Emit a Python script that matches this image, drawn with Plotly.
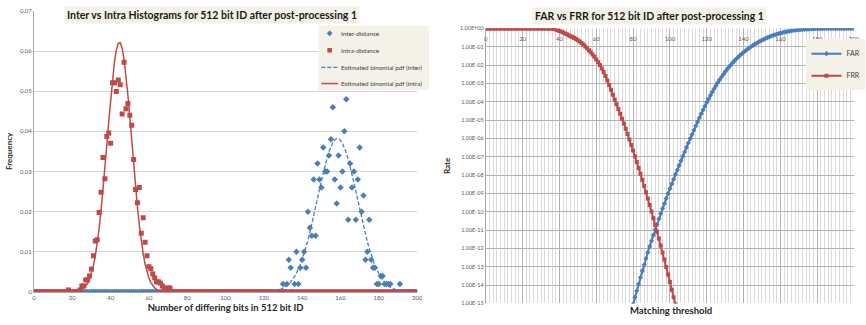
import plotly.graph_objects as go

# ---------------- data: histogram of Hamming distances (512 bit ID) ----------------
bits = list(range(0, 201))

INTRA_FIRST = 18   # intra-distance frequencies for 18..71 (zero elsewhere)
intra_freq = [0.0005, 0, 0, 0, 0, 0, 0.0005, 0.0015, 0.0015, 0.003, 0.003, 0.004,
              0.0057, 0.009, 0.0127, 0.013, 0.0198, 0.0248, 0.0335, 0.0282, 0.0387,
              0.0396, 0.037, 0.0521, 0.0521, 0.0499, 0.0528, 0.0516, 0.0443, 0.0572,
              0.0456, 0.0469, 0.044, 0.0415, 0.033, 0.0255, 0.0222, 0.026, 0.0146,
              0.0185, 0.0124, 0.009, 0.0063, 0.0058, 0.0045, 0.0035, 0.0025, 0.0025,
              0.0022, 0.0015, 0.001, 0.0005, 0.001, 0.001]

INTER_FIRST = 130  # inter-distance frequencies for 130..191 (zero elsewhere)
inter_freq = [0.002, 0, 0.002, 0.008, 0.006, 0, 0.002, 0.010, 0.002, 0.006, 0.008,
              0.010, 0.006, 0.020, 0.016, 0.014, 0.028, 0.014, 0.032, 0.028, 0.026,
              0.036, 0.030, 0.030, 0.034, 0.038, 0.046, 0.028, 0.022, 0.034, 0.026,
              0.030, 0.040, 0.048, 0.018, 0.032, 0.026, 0.030, 0.018, 0.028, 0.036,
              0.020, 0.024, 0.008, 0.010, 0.018, 0.008, 0.006, 0.006, 0.002, 0.002,
              0.004, 0.004, 0.002, 0.002, 0.002, 0.002, 0, 0, 0, 0, 0.002]

PDF_INTRA_FIRST = 20  # estimated binomial pdf (intra), 20..70
pdf_intra = [0.00004, 0.00007, 0.00012, 0.00021, 0.00035, 0.00057, 0.00091, 0.00142,
             0.00216, 0.00319, 0.00461, 0.0065, 0.00896, 0.01203, 0.01577, 0.0202,
             0.0252, 0.0307, 0.0365, 0.0424, 0.0480, 0.0531, 0.0573, 0.0603, 0.0619,
             0.0621, 0.0607, 0.0580, 0.0540, 0.0491, 0.0436, 0.0377, 0.0319, 0.0263,
             0.0211, 0.0166, 0.0127, 0.0095, 0.00695, 0.00495, 0.00344, 0.00233,
             0.00154, 0.0010, 0.00063, 0.00039, 0.00023, 0.00013, 0.00007, 0.00004,
             0.00002]

PDF_INTER_FIRST = 125  # estimated binomial pdf (inter), 125..195
pdf_inter = [0.00022, 0.00031, 0.00042, 0.00056, 0.00073, 0.00095, 0.00123, 0.00157,
             0.00199, 0.0025, 0.00311, 0.00384, 0.00469, 0.00568, 0.00682, 0.0081,
             0.00955, 0.01115, 0.0129, 0.01478, 0.01678, 0.0189, 0.02107, 0.0233,
             0.02549, 0.02765, 0.02973, 0.03167, 0.03343, 0.03497, 0.03623, 0.0372,
             0.03786, 0.0382, 0.03814, 0.0378, 0.03704, 0.036, 0.03467, 0.0331,
             0.03129, 0.0293, 0.02723, 0.02505, 0.02284, 0.02063, 0.01846, 0.01638,
             0.01439, 0.01253, 0.01082, 0.00925, 0.00783, 0.00658, 0.00547, 0.00451,
             0.00368, 0.00298, 0.00239, 0.0019, 0.0015, 0.00117, 0.0009, 0.00069,
             0.00052, 0.0004, 0.0003, 0.0002, 0.00015, 0.0001, 0.00008]

# ---------------- data: FAR / FRR against matching threshold (log10 of rate) ----------------
FAR_FIRST = 80
far_log10 = [-15.04, -14.67, -14.31, -13.94, -13.58, -13.22, -12.89, -12.55, -12.22,
             -11.89, -11.59, -11.28, -10.97, -10.69, -10.39, -10.10, -9.82, -9.55,
             -9.27, -9.00, -8.74, -8.48, -8.22, -7.96, -7.72, -7.47, -7.22, -6.97,
             -6.74, -6.49, -6.25, -6.01, -5.79, -5.56, -5.32, -5.096, -4.873, -4.655,
             -4.442, -4.235, -4.033, -3.837, -3.647, -3.463, -3.286, -3.116, -2.953,
             -2.797, -2.648, -2.505, -2.368, -2.237, -2.112, -1.993, -1.879, -1.770,
             -1.666, -1.567, -1.473, -1.384, -1.299, -1.218, -1.141, -1.068, -0.998,
             -0.931, -0.867, -0.806, -0.748, -0.693, -0.641, -0.591, -0.544, -0.500,
             -0.458, -0.418, -0.381, -0.346, -0.314, -0.284, -0.256, -0.230, -0.205,
             -0.182, -0.161, -0.142, -0.125, -0.110, -0.097, -0.085, -0.074, -0.064,
             -0.055, -0.047, -0.040, -0.034, -0.028, -0.023, -0.019, -0.015, -0.012,
             -0.009, -0.007, -0.005, -0.003, -0.002, -0.001, 0, 0, 0, 0, 0, 0, 0, 0,
             0, 0, 0, 0, 0, 0]

FRR_FIRST = 33  # FRR is 1 below this threshold
frr_log10 = [0, -0.002, -0.006, -0.015, -0.03, -0.06, -0.10, -0.14, -0.18, -0.22,
             -0.27, -0.32, -0.37, -0.42, -0.47, -0.52, -0.58, -0.64, -0.71, -0.79,
             -0.88, -0.98, -1.08, -1.19, -1.30, -1.42, -1.55, -1.69, -1.84, -2.00,
             -2.18, -2.38, -2.60, -2.84, -3.09, -3.35, -3.61, -3.87, -4.13, -4.39,
             -4.65, -4.92, -5.19, -5.47, -5.76, -6.06, -6.36, -6.66, -6.97, -7.29,
             -7.61, -7.93, -8.26, -8.59, -8.93, -9.28, -9.63, -9.99, -10.35, -10.72,
             -11.09, -11.46, -11.84, -12.22, -12.61, -13.01, -13.42, -13.83, -14.25,
             -14.67, -15.05]


def padded(first, values):
    """Place a run of values on the 0..200 grid, zero outside it."""
    out = [0.0] * len(bits)
    for i, v in enumerate(values):
        out[first + i] = v
    return out


BLUE = "#4a7ebb"
RED = "#be4b48"
GRID = "#d4d4d4"
TXT = "#404040"
PANEL = "#f3f1e8"
FONT = "Lato, Liberation Sans, sans-serif"
DASH = "4px,2px"
W, H = 866, 325


def px_x(p):
    return p / W


def px_y(p):
    return 1 - p / H


fig = go.Figure()

# ---- left: histograms ----
fig.add_trace(go.Scatter(
    x=bits, y=padded(INTER_FIRST, inter_freq), mode="markers", name="Inter-distance",
    marker=dict(symbol="diamond", size=5, color=BLUE), xaxis="x", yaxis="y",
    showlegend=False))
fig.add_trace(go.Scatter(
    x=bits, y=padded(INTRA_FIRST, intra_freq), mode="markers", name="Intra-distance",
    marker=dict(symbol="square", size=5, color=RED), xaxis="x", yaxis="y",
    showlegend=False))
fig.add_trace(go.Scatter(
    x=bits, y=padded(PDF_INTER_FIRST, pdf_inter), mode="lines",
    name="Estimated binomial pdf (inter)", line=dict(color=BLUE, width=1.3, dash=DASH),
    xaxis="x", yaxis="y", showlegend=False))
fig.add_trace(go.Scatter(
    x=bits, y=padded(PDF_INTRA_FIRST, pdf_intra), mode="lines",
    name="Estimated binomial pdf (intra)", line=dict(color=RED, width=1.5),
    xaxis="x", yaxis="y", showlegend=False))

# ---- right: FAR / FRR ----
far_t = list(range(FAR_FIRST, FAR_FIRST + len(far_log10)))
far = [10 ** v for v in far_log10]
frr_t = list(range(0, FRR_FIRST + len(frr_log10)))
frr = [1.0] * FRR_FIRST + [10 ** v for v in frr_log10]

fig.add_trace(go.Scatter(
    x=far_t, y=far, mode="lines+markers", name="FAR",
    line=dict(color=BLUE, width=2), marker=dict(symbol="diamond", size=4, color=BLUE),
    xaxis="x2", yaxis="y2", legendgroup="far"))
fig.add_trace(go.Scatter(
    x=frr_t, y=frr, mode="lines+markers", name="FRR",
    line=dict(color=RED, width=2), marker=dict(symbol="square", size=4, color=RED),
    xaxis="x2", yaxis="y2", legendgroup="frr"))

exps = list(range(0, -16, -1))
rate_ticks = [10.0 ** e for e in exps]
rate_text = ["1.00E+00"] + ["1.00E-%02d" % (-e) for e in exps[1:]]

# ---- legend box of the histogram panel (keys drawn as shapes, labels as text) ----
LX0, LX1, LY0, LY1 = 319.5, 431, 22, 88
key_x, key_half = 330.7, 2.9
rows = [30.0, 47.3, 64.7, 81.3]
labels = ["Inter-distance", "Intra-distance",
          "Estimated binomial pdf (inter)", "Estimated binomial pdf (intra)"]

shapes = [
    dict(type="rect", xref="paper", yref="paper", layer="above",
         x0=px_x(LX0), x1=px_x(LX1), y0=px_y(LY1), y1=px_y(LY0),
         fillcolor=PANEL, line=dict(width=0)),
    dict(type="path", xref="paper", yref="paper", layer="above",
         path="M %f %f L %f %f L %f %f L %f %f Z" % (
             px_x(key_x), px_y(rows[0] - key_half),
             px_x(key_x + key_half), px_y(rows[0]),
             px_x(key_x), px_y(rows[0] + key_half),
             px_x(key_x - key_half), px_y(rows[0])),
         fillcolor=BLUE, line=dict(width=0)),
    dict(type="rect", xref="paper", yref="paper", layer="above",
         x0=px_x(key_x - 2.3), x1=px_x(key_x + 2.3),
         y0=px_y(rows[1] + 2.3), y1=px_y(rows[1] - 2.3),
         fillcolor=RED, line=dict(width=0)),
    dict(type="line", xref="paper", yref="paper", layer="above",
         x0=px_x(322.3), x1=px_x(339.3), y0=px_y(rows[2]), y1=px_y(rows[2]),
         line=dict(color=BLUE, width=1.3, dash=DASH)),
    dict(type="line", xref="paper", yref="paper", layer="above",
         x0=px_x(322.3), x1=px_x(339.3), y0=px_y(rows[3]), y1=px_y(rows[3]),
         line=dict(color=RED, width=1.5)),
]

annotations = [
    dict(text="<b>Inter vs Intra Histograms for 512 bit ID after post-processing 1</b>",
         xref="paper", yref="paper", x=px_x(212), y=px_y(11.5), xanchor="center",
         yanchor="middle", showarrow=False, font=dict(size=10.5, color="#1a1a1a"),
         bgcolor=PANEL, borderpad=2),
    dict(text="<b>FAR vs FRR for 512 bit ID after post-processing 1</b>",
         xref="paper", yref="paper", x=px_x(654), y=px_y(12.5), xanchor="center",
         yanchor="middle", showarrow=False, font=dict(size=10.5, color="#1a1a1a"),
         bgcolor=PANEL, borderpad=2),
    dict(text="<b>Matching threshold</b>", xref="paper", yref="paper",
         x=px_x(675), y=px_y(313.5), xanchor="center", yanchor="middle",
         showarrow=False, font=dict(size=9.5, color="#262626")),
]
for r, lab in zip(rows, labels):
    annotations.append(dict(text=lab, xref="paper", yref="paper", x=px_x(340.5),
                            y=px_y(r), xanchor="left", yanchor="middle",
                            showarrow=False, font=dict(size=6.3, color="#404040")))

fig.update_layout(
    width=W, height=H, margin=dict(l=0, r=0, t=0, b=0),
    paper_bgcolor="white", plot_bgcolor="white",
    font=dict(family=FONT, color=TXT),
    xaxis=dict(domain=[px_x(32.3), px_x(419)], range=[0, 200], dtick=20,
               showgrid=False, zeroline=False, showline=True, linecolor="#a6a6a6",
               tickfont=dict(size=6, color="#595959"), ticks="",
               title=dict(text="<b>Number of differing bits in 512 bit ID</b>",
                          font=dict(size=9.5, color="#262626"), standoff=4)),
    yaxis=dict(domain=[px_y(294.3), px_y(7)], range=[0, 0.07], dtick=0.01,
               showgrid=True, gridcolor=GRID, gridwidth=1, zeroline=False,
               showline=True, linecolor="#a6a6a6",
               tickfont=dict(size=6, color="#595959"),
               title=dict(text="<b>Frequency</b>", font=dict(size=8, color="#262626"),
                          standoff=6)),
    # threshold axis: labels sit just under the top edge (rate = 1)
    xaxis2=dict(domain=[px_x(488.3), px_x(860)], range=[0, 200], dtick=20,
                anchor="free", position=px_y(27), side="bottom", layer="above traces",
                showgrid=True, gridcolor="#b3b3b3", gridwidth=1, zeroline=False,
                showline=False, ticks="outside", ticklen=2,
                tickcolor="rgba(0,0,0,0)", tickfont=dict(size=6, color="#595959"),
                minor=dict(dtick=2, showgrid=True, gridcolor="#dadada", gridwidth=1)),
    yaxis2=dict(domain=[px_y(306), px_y(25)], type="log", range=[-15, 0],
                tickmode="array", tickvals=rate_ticks, ticktext=rate_text,
                anchor="x2", showgrid=True, gridcolor="#b3b3b3", gridwidth=1,
                zeroline=False, showline=True, linecolor="#a6a6a6",
                tickfont=dict(size=5.5, color="#595959"),
                title=dict(text="<b>Rate</b>", font=dict(size=8, color="#262626"),
                           standoff=8)),
    legend=dict(x=px_x(812), y=px_y(36), xanchor="left", yanchor="top",
                bgcolor=PANEL, font=dict(size=7, color="#404040"),
                itemwidth=30, tracegroupgap=3),
    showlegend=True,
    shapes=shapes,
    annotations=annotations,
)

fig.write_html("out.html")
